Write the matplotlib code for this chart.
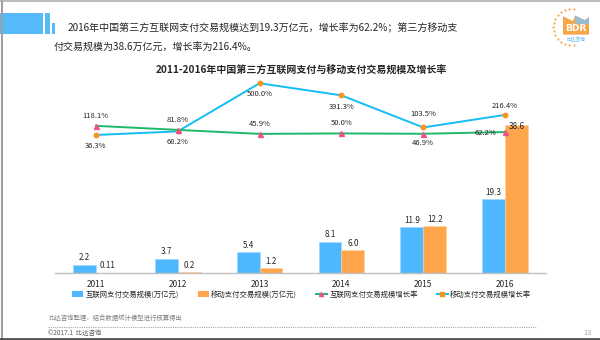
import numpy as np
import matplotlib
matplotlib.use("Agg")
import matplotlib.pyplot as plt
from matplotlib.patches import Rectangle, Patch, Polygon
from matplotlib.lines import Line2D

plt.rcParams['font.family'] = ['Noto Sans CJK SC', 'DejaVu Sans']

# ---------------- data ----------------
years = ["2011", "2012", "2013", "2014", "2015", "2016"]
internet_scale = [2.2, 3.7, 5.4, 8.1, 11.9, 19.3]
mobile_scale = [0.11, 0.2, 1.2, 6.0, 12.2, 38.6]
internet_growth = [118.1, 81.8, 45.9, 50.0, 46.9, 62.2]
mobile_growth = [36.3, 68.2, 500.0, 391.3, 103.5, 216.4]

series_names = ["互联网支付交易规模(万亿元)", "移动支付交易规模(万亿元)",
                "互联网支付交易规模增长率", "移动支付交易规模增长率"]
title = "2011-2016年中国第三方互联网支付与移动支付交易规模及增长率"
header_lines = ["2016年中国第三方互联网支付交易规模达到19.3万亿元，增长率为62.2%；第三方移动支",
                "付交易规模为38.6万亿元，增长率为216.4%。"]
source_note = "比达咨询整理，结合数据统计模型进行核算得出"
copyright_note = "©2017.1  比达咨询"
page_no = "13"

# ---------------- style ----------------
C_BLUE_BAR = "#4DB8FF"
C_ORANGE_BAR = "#FFA64D"
C_GREEN = "#1DB86A"
C_CYAN = "#14BDF5"
C_PINK = "#F0508C"
C_ORANGE_MK = "#F7941D"
TXT = "#262626"

W, H = 600, 340
fig = plt.figure(figsize=(6, 3.4), dpi=100)
fig.patch.set_facecolor("white")

def fx(px):
    return px / W

def fy(py):
    return 1 - py / H

# frame lines
fig.add_artist(Line2D([fx(2), fx(2)], [0, 1], color="#A0A0A0", lw=1.5, transform=fig.transFigure))
fig.add_artist(Line2D([0, 1], [fy(0.5), fy(0.5)], color="#B0B0B0", lw=1.2, transform=fig.transFigure))
fig.add_artist(Line2D([0, 1], [fy(339), fy(339)], color="#505050", lw=2, transform=fig.transFigure))

# header bars
for (x0, x1, y0, y1) in [(0, 43, 13, 34), (45, 50, 13, 34), (52, 55, 23, 34)]:
    fig.add_artist(Rectangle((fx(x0), fy(y1)), fx(x1) - fx(x0), (y1 - y0) / H,
                             color="#55B9FA", transform=fig.transFigure, lw=0))

# header text
fig.text(fx(68), fy(28.5), header_lines[0], fontsize=7.2, color=TXT, va="center", ha="left")
fig.text(fx(54), fy(46.5), header_lines[1], fontsize=7.2, color=TXT, va="center", ha="left")

# logo
lax = fig.add_axes([fx(551), fy(46), fx(40), 38 / H])
lax.set_xlim(0, 1); lax.set_ylim(0, 1); lax.axis("off")
ang = np.linspace(np.pi * 0.45, np.pi * 1.55, 15)
lax.scatter(0.5 + 0.45 * np.cos(ang), 0.5 + 0.47 * np.sin(ang), s=2.2, color="#F7A040", lw=0)
lax.add_patch(Polygon([[0.3, 0.3], [0.3, 0.78], [0.55, 0.66], [0.6, 0.8], [0.85, 0.68], [0.95, 0.76],
                       [0.95, 0.3]], closed=True, color="#F9A54A", lw=0))
lax.add_patch(Polygon([[0.6, 0.8], [0.85, 0.68], [0.95, 0.76], [0.95, 0.58], [0.6, 0.58]],
                      closed=True, color="#7CC4F2", lw=0, alpha=0.8))
lax.text(0.63, 0.45, "BDR", color="white", fontsize=6.5, fontweight="bold", ha="center", va="center",
         family="DejaVu Sans")
lax.text(0.63, 0.17, "比达咨询", color="#4DB0F0", fontsize=3.4, ha="center", va="center")

# ---------------- main chart ----------------
base_y, top_y = 273, 80
ax = fig.add_axes([fx(55), fy(base_y), fx(546) - fx(55), (base_y - top_y) / H])
px_per_unit = 3.83
ax.set_xlim(-0.5, 5.5)
ax.set_ylim(0, (base_y - top_y) / px_per_unit)
x = np.arange(len(years))
bw = 0.28
ax.bar(x - bw / 2, internet_scale, width=bw, color=C_BLUE_BAR, edgecolor="#9ED6FF", lw=0.4, zorder=2)
ax.bar(x + bw / 2, mobile_scale, width=bw, color=C_ORANGE_BAR, edgecolor="#FFD0A0", lw=0.4, zorder=2)

for xi, v in zip(x, internet_scale):
    ax.annotate(str(v), (xi - bw / 2, v), xytext=(0, 2.5), textcoords="offset pixels",
                ha="center", va="bottom", fontsize=5.8, color=TXT)
for i, (xi, v) in enumerate(zip(x, mobile_scale)):
    if i == len(x) - 1:
        ax.annotate(str(v), (xi + bw / 2, v), xytext=(0, -1), textcoords="offset pixels",
                    ha="center", va="center", fontsize=5.8, color=TXT, zorder=5)
    else:
        ax.annotate(str(v), (xi + bw / 2, v), xytext=(0, 2.5), textcoords="offset pixels",
                    ha="center", va="bottom", fontsize=5.8, color=TXT)

for s in ["top", "left", "right"]:
    ax.spines[s].set_visible(False)
ax.spines["bottom"].set_color("#BFBFBF")
ax.spines["bottom"].set_linewidth(1)
ax.set_yticks([])
ax.set_xticks(x)
ax.set_xticklabels(years, fontsize=6, color=TXT)
ax.tick_params(axis="x", length=0, pad=5)
ax.patch.set_alpha(0)

# growth-rate axis
ax2 = ax.twinx()
zero_y, px_per_pct = 139, 0.1115
ax2.set_ylim(-(base_y - zero_y) / px_per_pct, (zero_y - top_y) / px_per_pct)
ax2.axis("off")
ax2.plot(x, mobile_growth, color=C_CYAN, lw=1.4, marker="o", ms=3.2,
         mfc=C_ORANGE_MK, mec=C_ORANGE_MK, zorder=3)
ax2.plot(x, internet_growth, color=C_GREEN, lw=1.4, marker="^", ms=3.6,
         mfc=C_PINK, mec=C_PINK, zorder=4)

mob_off = [(0, -11), (0, -11), (0, -11), (0, -12), (0, 13), (0, 9)]
int_off = [(0, 10), (0, 10), (0, 10), (0, 10), (0, -9), (-20, -0.5)]
for xi, v, o in zip(x, mobile_growth, mob_off):
    ax2.annotate(f"{v:.1f}%", (xi, v), xytext=o, textcoords="offset pixels",
                 ha="center", va="center", fontsize=5.5, color=TXT)
for xi, v, o in zip(x, internet_growth, int_off):
    ax2.annotate(f"{v:.1f}%", (xi, v), xytext=o, textcoords="offset pixels",
                 ha="center", va="center", fontsize=5.5, color=TXT, zorder=6)

# title
fig.text(0.502, fy(71), title, fontsize=7.2, fontweight="bold", color=TXT, ha="center", va="center")

# legend
handles = [
    Patch(facecolor=C_BLUE_BAR, edgecolor="none"),
    Patch(facecolor=C_ORANGE_BAR, edgecolor="none"),
    Line2D([], [], color=C_GREEN, lw=1.4, marker="^", ms=3, mfc=C_PINK, mec=C_PINK),
    Line2D([], [], color=C_CYAN, lw=1.4, marker="s", ms=3, mfc=C_ORANGE_MK, mec=C_ORANGE_MK),
]
fig.legend(handles, series_names, loc="center left", bbox_to_anchor=(fx(72), fy(294.5)),
           ncol=4, frameon=False, fontsize=5.3, borderpad=0, borderaxespad=0,
           handlelength=1.5, handletextpad=0.3, columnspacing=2.6, labelcolor=TXT)

# footer
fig.text(fx(48), fy(318), source_note, fontsize=4.6, color="#7F7F7F", va="center", ha="left")
fig.add_artist(Line2D([fx(48), fx(536)], [fy(327), fy(327)], color="#A6A6A6", lw=0.8,
                      ls=(0, (1, 1)), transform=fig.transFigure))
fig.text(fx(48), fy(333), copyright_note, fontsize=4.6, color="#595959", va="center", ha="left")
fig.text(fx(592), fy(333), page_no, fontsize=5.5, color="#A6A6A6", va="center", ha="right")

fig.savefig("out.png", dpi=100, facecolor="white")
